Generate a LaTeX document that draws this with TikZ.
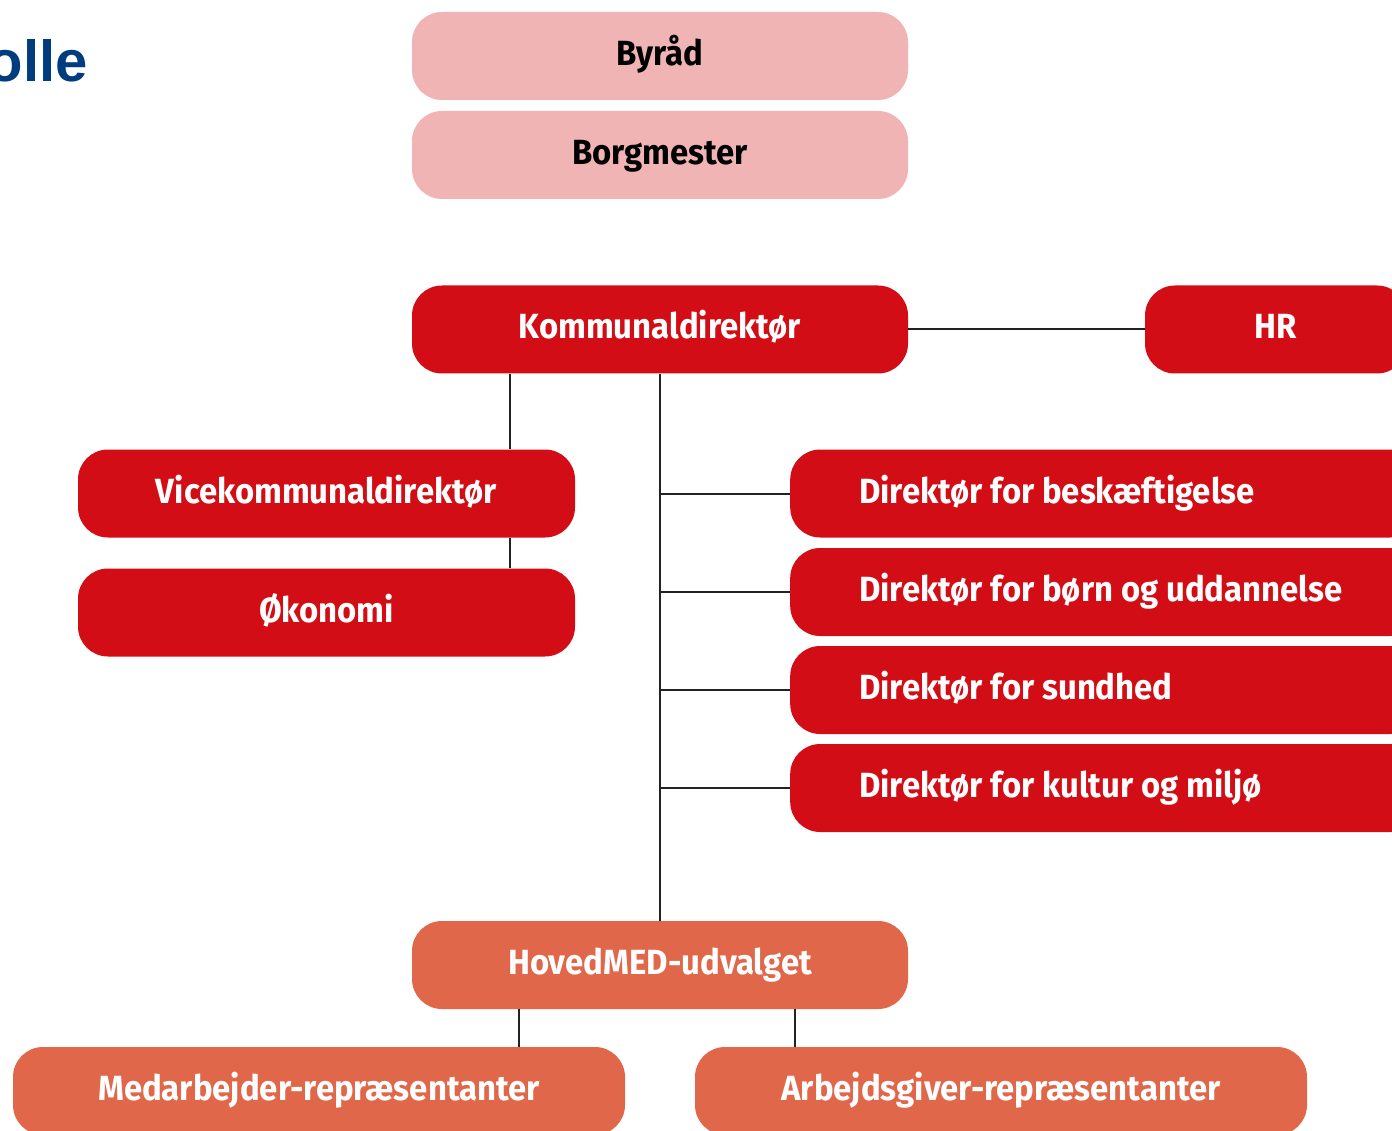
\documentclass[tikz,border=0pt]{standalone}
\usepackage{fontspec}
\newfontfamily\dinfont[FakeStretch=0.94]{Fira Sans}
\newfontfamily\titlefont{Liberation Sans}
\definecolor{boxred}{HTML}{D20D15}
\definecolor{boxpink}{HTML}{F0B4B5}
\definecolor{boxorange}{HTML}{E0674A}
\definecolor{titleblue}{HTML}{003C7E}
\definecolor{linegray}{HTML}{222222}
\tikzset{
  orgbox/.style={rectangle, rounded corners=30pt, inner sep=0pt,
    minimum height=88pt, text height=26pt, text depth=7pt,
    font=\dinfont\bfseries\fontsize{35}{40}\selectfont},
  redbox/.style={orgbox, fill=boxred, text=white},
  pinkbox/.style={orgbox, fill=boxpink, text=black},
  orangebox/.style={orgbox, fill=boxorange, text=white},
  link/.style={draw=linegray, line width=2pt},
  lbl/.style={inner sep=0pt, text height=26pt, text depth=7pt,
    font=\dinfont\bfseries\fontsize{35}{40}\selectfont, text=white}
}
\begin{document}
\begin{tikzpicture}[x=1pt,y=-1pt]
\useasboundingbox (0,0) rectangle (1392,1131);
\clip (0,0) rectangle (1392,1131);
% title fragment
\node[anchor=base east, inner sep=0pt, text=titleblue,
  font=\titlefont\bfseries\fontsize{58}{64}\selectfont] (title) at (88,82) {olle};
% top boxes
\node[pinkbox, minimum width=496pt] (byraad) at (660,56) {Byråd};
\node[pinkbox, minimum width=496pt] (borg) at (660,155) {Borgmester};
% management
\node[redbox, minimum width=496pt] (kd) at (660,329.5) {Kommunaldirektør};
\node[redbox, minimum width=262pt] (hr) at (1276,329.5) {HR};
\node[redbox, minimum width=497pt] (vice) at (326.5,493.5) {Vicekommunaldirektør};
\node[redbox, minimum width=497pt] (oko) at (326.5,612.5) {Økonomi};
% directors
\foreach \nm/\yy/\tx in {d1/493.5/Direktør for beskæftigelse,
                         d2/592/Direktør for børn og uddannelse,
                         d3/690/Direktør for sundhed,
                         d4/788/Direktør for kultur og miljø}{
  \node[redbox, minimum width=630pt, minimum height=88pt, anchor=west] (\nm) at (790,\yy) {};
  \node[lbl, anchor=west] (\nm t) at (859,\yy) {\tx};
}
% MED
\node[orangebox, minimum width=496pt] (hmed) at (660,965) {HovedMED-udvalget};
\node[orangebox, minimum width=612pt] (medarb) at (319,1091) {Medarbejder-repræsentanter};
\node[orangebox, minimum width=612pt] (arbg) at (1001,1091) {Arbejdsgiver-repræsentanter};
% connectors
\draw[link] (kd.east) -- (hr.west);
\draw[link] (510,0 |- kd.south) -- (510,0 |- vice.north);
\draw[link] (510,0 |- vice.south) -- (510,0 |- oko.north);
\draw[link] (kd.south) -- (hmed.north);
\foreach \nm in {d1,d2,d3,d4}{
  \draw[link] (kd.south |- \nm.west) -- (\nm.west);
}
\draw[link] (519,0 |- hmed.south) -- (519,0 |- medarb.north);
\draw[link] (795,0 |- hmed.south) -- (795,0 |- arbg.north);
\end{tikzpicture}
\end{document}
